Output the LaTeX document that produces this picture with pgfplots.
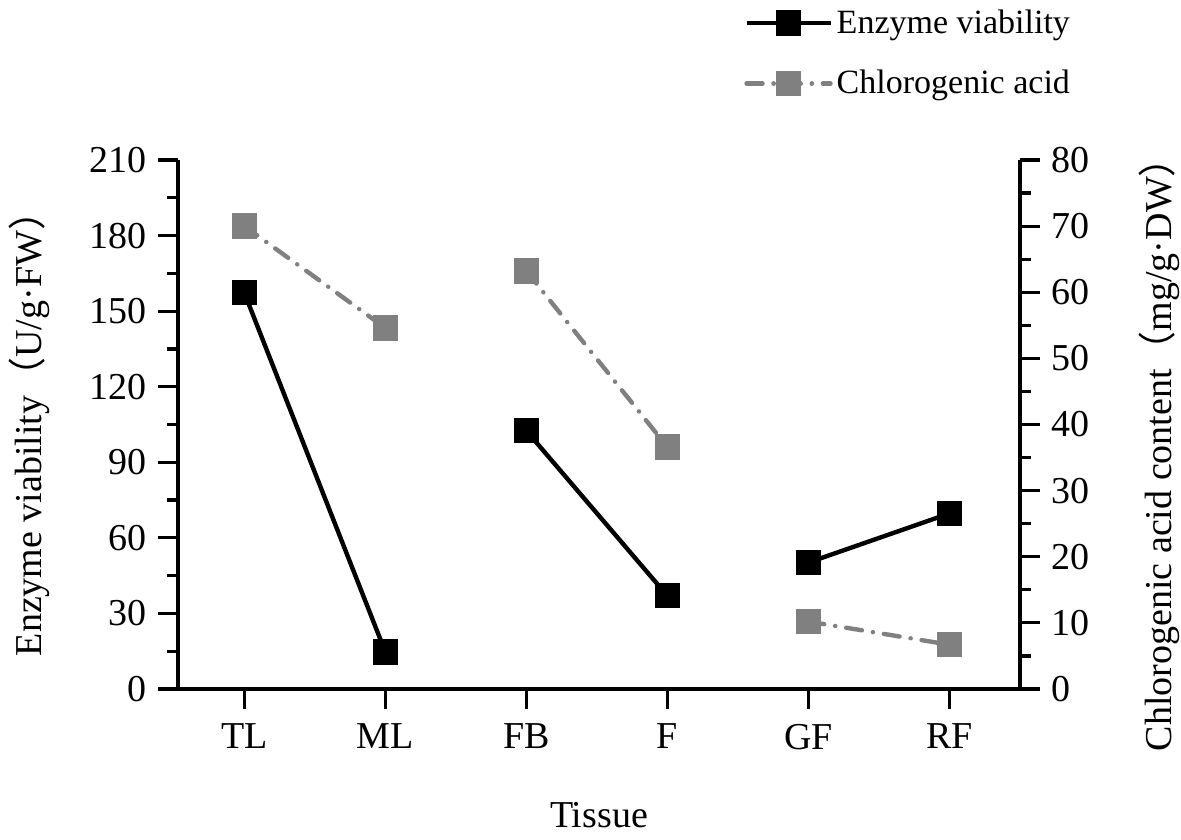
\documentclass[border=0pt]{standalone}
\usepackage{fontspec}
\setmainfont{Liberation Serif}
\newfontfamily\cjk{Noto Sans CJK SC}
\usepackage{pgfplots}
\pgfplotsset{compat=1.18}
\definecolor{cgagray}{RGB}{128,128,128}
\begin{document}
\begin{tikzpicture}
\path[use as bounding box] (-89pt,-75pt) rectangle (501.5pt,344.5pt);
\pgfplotsset{
  common/.style={
    scale only axis, width=421pt, height=264.5pt,
    xmin=-0.47, xmax=5.5,
    tick align=outside,
    major tick length=10pt, minor tick length=5.5pt,
    every tick/.style={line width=1.6pt, black},
    axis line style={line width=1.8pt, -},
    /pgf/number format/assume math mode=true,
    tick label style={font=\fontsize{19}{22}\selectfont},
    label style={font=\fontsize{19}{22}\selectfont},
    unbounded coords=jump,
  }
}
\begin{axis}[common,
  axis lines*=left, clip=false,
  ymin=0, ymax=210, ytick={0,30,...,210}, minor y tick num=1,
  xtick={0,1,2,3,4,5}, xticklabels={TL,ML,FB,F,GF,RF},
  xticklabel style={yshift=-4pt},
  yticklabel style={xshift=-2pt},
  xlabel={Tissue},
  xlabel style={at={(axis description cs:0.5,-0.238)}, anchor=center},
  ylabel={Enzyme viability{\cjk （}U/g·FW{\cjk ）}},
  ylabel style={at={(axis description cs:-0.176,0.5)}, anchor=center, rotate=0},
]
% x-axis tick marks
\addplot[black, line width=1.6pt, ycomb, mark=none, forget plot]
  coordinates {(0,-7.4) (1,-7.4) (2,-7.4) (3,-7.4) (4,-7.4) (5,-7.4)};
\addplot[black, line width=2.2pt, mark=square*, mark size=5.25pt, mark options={solid, fill=black}]
  coordinates {(0,157.3) (1,14.7) (1.5,nan) (2,102.5) (3,37.0) (3.5,nan) (4,50.2) (5,69.7)};
\end{axis}
\begin{axis}[common,
  axis x line=none, axis y line*=right,
  ymin=0, ymax=80, ytick={0,10,...,80}, minor y tick num=1,
  yticklabel style={xshift=2pt},
  ylabel={Chlorogenic acid content{\cjk （}mg/g·DW{\cjk ）}},
  ylabel style={at={(axis description cs:1.165,0.461)}, anchor=center, rotate=0},
  legend style={at={(axis description cs:0.665,1.30)}, anchor=north west, draw=none, fill=none,
    font=\fontsize{17}{20}\selectfont, row sep=13pt},
  legend cell align=left,
  legend image code/.code={\draw[mark repeat=2,mark phase=2] plot coordinates {(0pt,0pt) (21pt,0pt) (42pt,0pt)};},
]
\addlegendimage{black, line width=2.2pt, mark=square*, mark size=5.25pt, mark options={solid, fill=black}}
\addlegendentry{Enzyme viability}
\addplot[cgagray, line width=2.2pt, line cap=round, dash pattern=on 8pt off 5.5pt on 0.1pt off 5.5pt,
  mark=square*, mark size=5.25pt, mark options={solid, fill=cgagray, draw=cgagray}]
  coordinates {(0,70.0) (1,54.6) (1.5,nan) (2,63.2) (3,36.6) (3.5,nan) (4,10.2) (5,6.7)};
\addlegendentry{Chlorogenic acid}
\end{axis}
\end{tikzpicture}
\end{document}
